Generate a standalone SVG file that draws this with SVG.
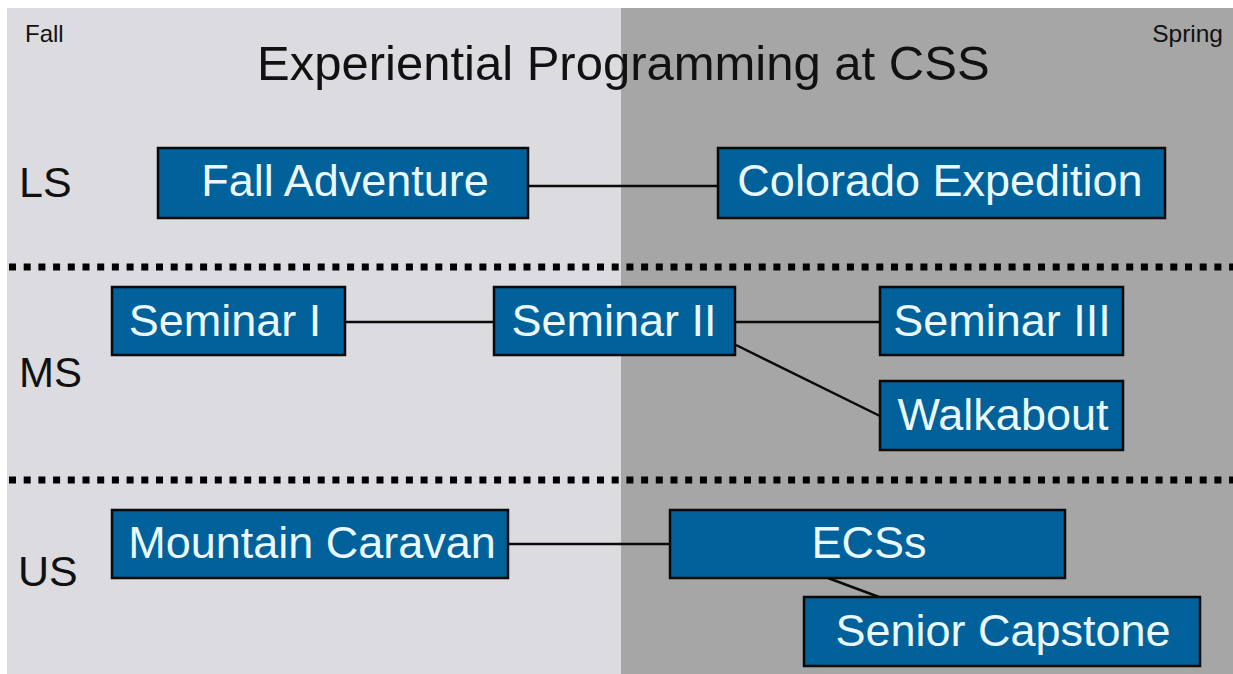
<svg xmlns="http://www.w3.org/2000/svg" width="1233" height="674" viewBox="0 0 1233 674">
<style>
.box{fill:#01619a;stroke:#0a0a0a;stroke-width:2.5}
.bt{font-family:"Liberation Sans",Arial,sans-serif;font-size:45px;fill:#eaf8ff;text-anchor:middle}
.lab{font-family:"Liberation Sans",Arial,sans-serif;fill:#111}
.con{stroke:#0a0a0a;stroke-width:2.5;fill:none}
.dot{stroke:#000;stroke-width:7;stroke-dasharray:7 7.7;fill:none}
</style>
<rect x="0" y="0" width="1233" height="674" fill="#ffffff"/>
<rect x="7" y="8" width="614" height="666" fill="#dcdce0"/>
<rect x="621" y="8" width="612" height="666" fill="#a6a6a6"/>
<g id="labels">
<text class="lab" x="25" y="42" font-size="24">Fall</text>
<text class="lab" x="1223" y="42" font-size="24.5" text-anchor="end">Spring</text>
<text class="lab" x="257" y="80" font-size="49">Experiential Programming at CSS</text>
<text class="lab" x="19" y="197" font-size="43">LS</text>
<text class="lab" x="19" y="387" font-size="42">MS</text>
<text class="lab" x="18" y="586" font-size="43">US</text>
</g>
<g id="dividers">
<line class="dot" x1="9" y1="267" x2="1233" y2="267"/>
<line class="dot" x1="9" y1="480" x2="1233" y2="480"/>
</g>
<g id="connectors">
<line class="con" x1="528" y1="186" x2="718" y2="186"/>
<line class="con" x1="345" y1="322" x2="494" y2="322"/>
<line class="con" x1="735" y1="322" x2="880" y2="322"/>
<line class="con" x1="736" y1="345" x2="880" y2="416"/>
<line class="con" x1="508" y1="544" x2="670" y2="544"/>
<line class="con" x1="828" y1="578" x2="879" y2="597"/>
</g>
<g id="fall-adventure"><rect class="box" x="158" y="148" width="370" height="70"/><text class="bt" x="345" y="196">Fall Adventure</text></g>
<g id="colorado-expedition"><rect class="box" x="718" y="148" width="447" height="70"/><text class="bt" x="940" y="196">Colorado Expedition</text></g>
<g id="seminar-1"><rect class="box" x="112" y="287" width="233" height="68"/><text class="bt" x="225" y="336">Seminar I</text></g>
<g id="seminar-2"><rect class="box" x="494" y="287" width="241" height="68"/><text class="bt" x="614" y="336">Seminar II</text></g>
<g id="seminar-3"><rect class="box" x="880" y="287" width="243" height="68"/><text class="bt" x="1002" y="336">Seminar III</text></g>
<g id="walkabout"><rect class="box" x="880" y="381" width="243" height="69"/><text class="bt" x="1003" y="430">Walkabout</text></g>
<g id="mountain-caravan"><rect class="box" x="112" y="510" width="396" height="68"/><text class="bt" x="312" y="558">Mountain Caravan</text></g>
<g id="ecss"><rect class="box" x="670" y="510" width="395" height="68"/><text class="bt" x="869" y="558">ECSs</text></g>
<g id="senior-capstone"><rect class="box" x="804" y="597" width="396" height="69"/><text class="bt" x="1003" y="646">Senior Capstone</text></g>
</svg>
